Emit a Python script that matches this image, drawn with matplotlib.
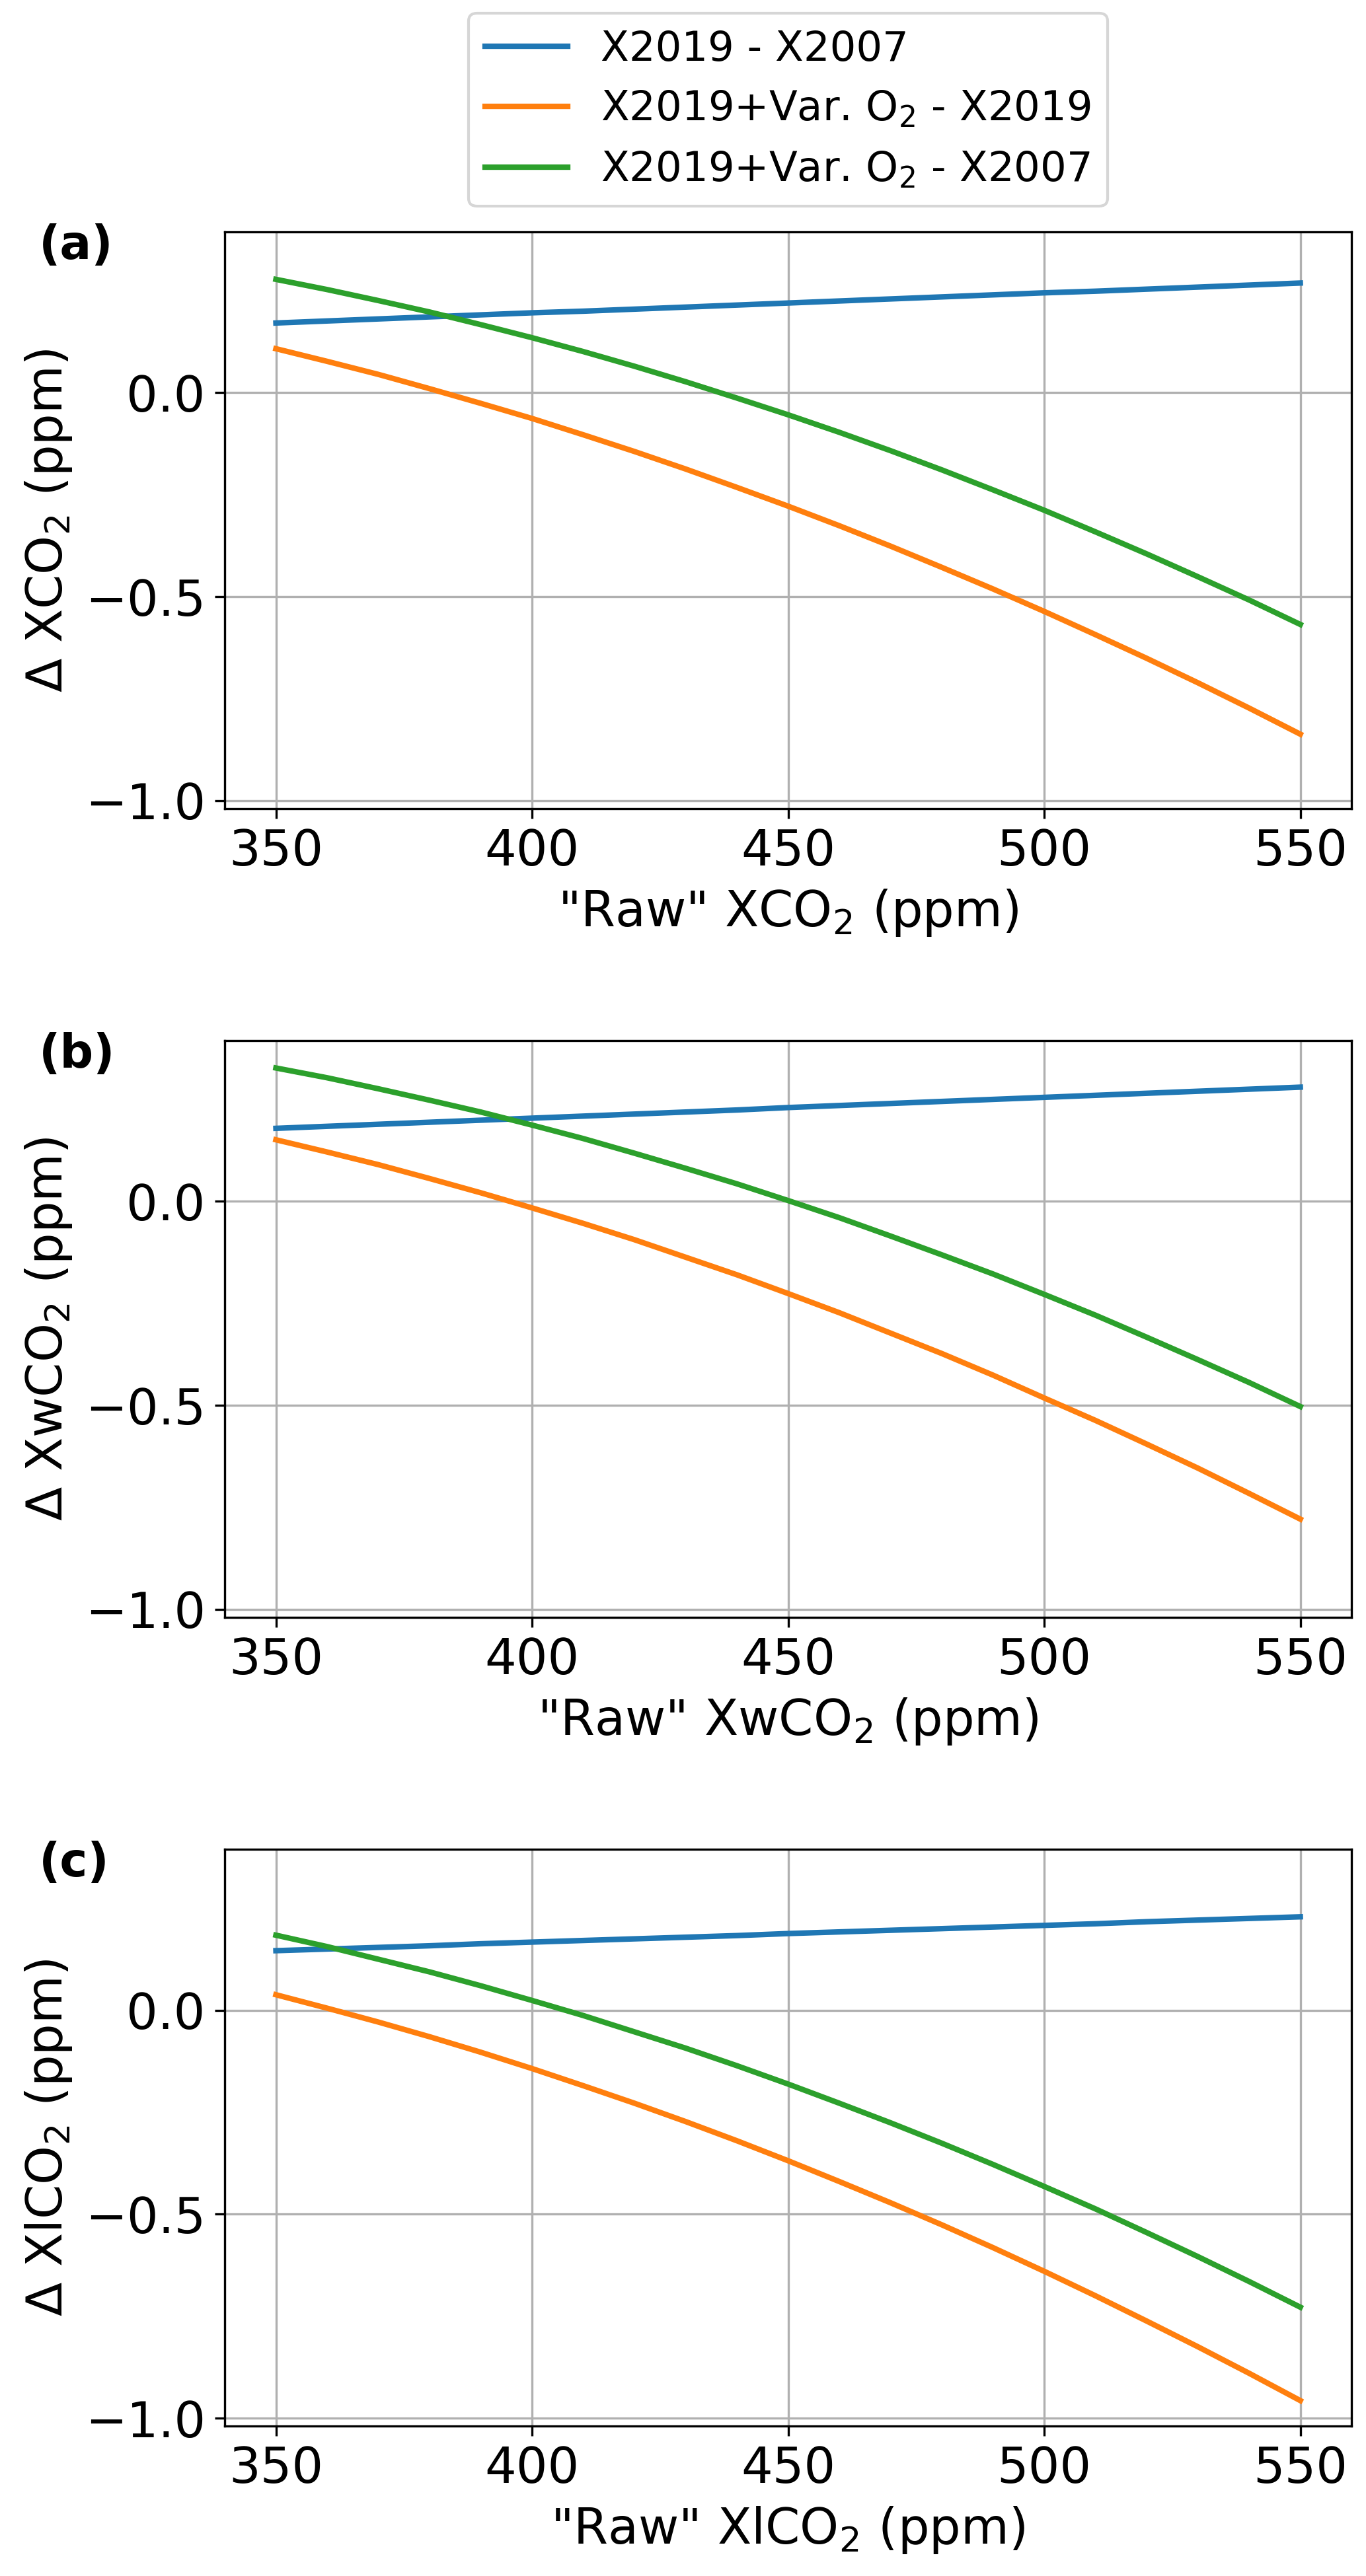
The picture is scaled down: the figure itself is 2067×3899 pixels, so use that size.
import matplotlib
matplotlib.use('Agg')
import matplotlib.pyplot as plt

# valores (cada 10 ppm)
raw = [350, 360, 370, 380, 390, 400, 410, 420, 430, 440, 450,
       460, 470, 480, 490, 500, 510, 520, 530, 540, 550]

# (a) XCO2
a_blue = [0.171, 0.176, 0.181, 0.186, 0.191, 0.196, 0.200, 0.205, 0.210, 0.215, 0.220,
          0.225, 0.230, 0.235, 0.240, 0.245, 0.249, 0.254, 0.259, 0.264, 0.269]
a_orange = [0.108, 0.077, 0.045, 0.010, -0.026, -0.063, -0.103, -0.144, -0.187, -0.232, -0.278,
            -0.326, -0.376, -0.428, -0.481, -0.536, -0.593, -0.651, -0.711, -0.773, -0.837]
a_green = [0.278, 0.253, 0.226, 0.198, 0.167, 0.135, 0.101, 0.065, 0.027, -0.013, -0.054,
           -0.097, -0.142, -0.189, -0.238, -0.288, -0.341, -0.395, -0.451, -0.508, -0.568]

# (b) XwCO2
b_blue = [0.179, 0.184, 0.189, 0.194, 0.199, 0.204, 0.209, 0.214, 0.219, 0.224, 0.230,
          0.235, 0.240, 0.245, 0.250, 0.255, 0.260, 0.265, 0.270, 0.275, 0.280]
b_orange = [0.151, 0.121, 0.090, 0.056, 0.021, -0.016, -0.054, -0.094, -0.137, -0.180, -0.226,
            -0.273, -0.323, -0.373, -0.426, -0.482, -0.537, -0.595, -0.654, -0.716, -0.779]
b_green = [0.327, 0.303, 0.276, 0.248, 0.219, 0.187, 0.154, 0.118, 0.081, 0.043, 0.002,
           -0.040, -0.085, -0.131, -0.178, -0.228, -0.279, -0.333, -0.388, -0.444, -0.503]

# (c) XlCO2
c_blue = [0.146, 0.150, 0.154, 0.158, 0.163, 0.167, 0.171, 0.175, 0.179, 0.183, 0.188,
          0.192, 0.196, 0.200, 0.204, 0.208, 0.212, 0.217, 0.221, 0.225, 0.229]
c_orange = [0.038, 0.005, -0.029, -0.065, -0.103, -0.143, -0.185, -0.228, -0.273, -0.320, -0.369,
            -0.420, -0.472, -0.526, -0.582, -0.640, -0.700, -0.762, -0.825, -0.890, -0.957]
c_green = [0.184, 0.156, 0.125, 0.094, 0.060, 0.024, -0.013, -0.053, -0.093, -0.136, -0.181,
           -0.228, -0.276, -0.326, -0.378, -0.432, -0.487, -0.545, -0.604, -0.665, -0.728]

series_names = ['X2019 - X2007', 'X2019+Var. O$_2$ - X2019', 'X2019+Var. O$_2$ - X2007']
gases = ['XCO$_2$', 'XwCO$_2$', 'XlCO$_2$']
letters = ['(a)', '(b)', '(c)']
panels = [(a_blue, a_orange, a_green), (b_blue, b_orange, b_green), (c_blue, c_orange, c_green)]

fig = plt.figure(figsize=(2067 / 300, 3899 / 300), dpi=300)
bottoms = [0.6861, 0.3722, 0.0582]  # posiciones de cada panel
axes = []
for i in range(3):
    ax = fig.add_axes([0.1645, bottoms[i], 0.8249, 0.2239])
    axes.append(ax)
    blue, orange, green = panels[i]
    ax.plot(raw, blue, color='tab:blue', lw=2, label=series_names[0])
    ax.plot(raw, orange, color='tab:orange', lw=2, label=series_names[1])
    ax.plot(raw, green, color='tab:green', lw=2, label=series_names[2])
    ax.set_xlim(340, 560)
    ax.set_ylim(-1.0195, 0.3945)
    ax.set_xticks([350, 400, 450, 500, 550])
    ax.set_yticks([-1.0, -0.5, 0.0])
    ax.grid(True)
    ax.tick_params(labelsize=18)
    ax.set_xlabel('"Raw" ' + gases[i] + ' (ppm)', fontsize=18)
    ax.set_ylabel('Δ ' + gases[i] + ' (ppm)', fontsize=18)
    ax.text(-0.165, 1.015, letters[i], transform=ax.transAxes, ha='left', va='top',
            fontsize=17, fontweight='bold')

axes[0].legend(loc='lower center', bbox_to_anchor=(0.5, 1.044), fontsize=15,
               borderaxespad=0)

fig.savefig('out.png', dpi=300)
